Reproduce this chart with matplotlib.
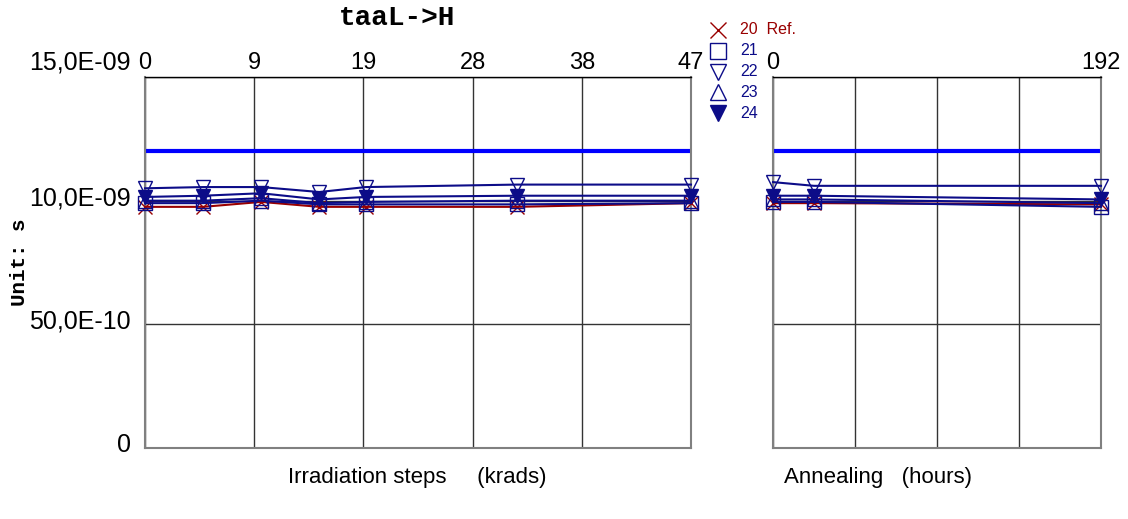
import numpy as np
import matplotlib
matplotlib.use("Agg")
import matplotlib.pyplot as plt
import matplotlib.transforms as mtransforms

# irradiation steps (krads) and annealing (hours)
irr_x = [0, 5, 10, 15, 19, 32, 47]
ann_x = [0, 24, 192]

# values in ns
irr = {
    "20": [9.75, 9.75, 9.95, 9.75, 9.75, 9.75, 9.9],
    "21": [9.9, 9.9, 10.0, 9.85, 9.85, 9.85, 9.9],
    "22": [10.5, 10.55, 10.55, 10.35, 10.55, 10.65, 10.65],
    "23": [10.0, 10.0, 10.1, 9.9, 9.95, 10.0, 10.0],
    "24": [10.15, 10.2, 10.3, 10.05, 10.15, 10.2, 10.2],
}
ann = {
    "20": [9.9, 9.9, 9.85],
    "21": [9.95, 9.95, 9.75],
    "22": [10.75, 10.6, 10.6],
    "23": [10.05, 10.05, 9.9],
    "24": [10.2, 10.2, 10.05],
}
limit = 12.0  # ns

irr_ticks = [0, 9, 19, 28, 38, 47]
ann_ticks = ["0", "", "", "", "192"]
y_ticks = [0, 5, 10, 15]
y_labels = ["0", "50,0E-10", "10,0E-09", "15,0E-09"]

red = "#990000"
navy = "#0c0c88"
styles = {
    "20": dict(marker="x", color=red, mfc="none"),
    "21": dict(marker="s", color=navy, mfc="none"),
    "22": dict(marker="v", color=navy, mfc="none"),
    "23": dict(marker="^", color=navy, mfc="none"),
    "24": dict(marker="v", color=navy, mfc=navy),
}
leg_text = {"20": "20  Ref.", "21": "21", "22": "22", "23": "23", "24": "24"}

plt.rcParams['font.family'] = ['Liberation Sans', 'DejaVu Sans']

fig = plt.figure(figsize=(11.28, 5.19), dpi=100)
W, H = 1128.0, 519.0
top, bot = 77, 448
ax1 = fig.add_axes([145 / W, (H - bot) / H, 546 / W, (bot - top) / H])
ax2 = fig.add_axes([773 / W, (H - bot) / H, 328 / W, (bot - top) / H])

for ax, xs, data, xmax in [(ax1, irr_x, irr, 47), (ax2, ann_x, ann, 192)]:
    ax.set_xlim(0, xmax)
    ax.set_ylim(0, 15)
    ax.axhline(limit, color="#0000ff", lw=3, zorder=2)
    for k in ["20", "21", "22", "23", "24"]:
        st = styles[k]
        ax.plot(xs, data[k], color=st["color"], marker=st["marker"], mfc=st["mfc"],
                mec=st["color"], ms=10, mew=1, lw=1.5, zorder=3, clip_on=False)
    ax.xaxis.tick_top()
    ax.tick_params(axis="x", length=0, labelsize=17, pad=2)
    ax.tick_params(axis="y", length=0)
    ax.grid(True, color="#333333", lw=1)
    ax.set_axisbelow(True)
    for s in ["left", "right", "bottom"]:
        ax.spines[s].set_color("#808080")
        ax.spines[s].set_linewidth(1.5)
    ax.spines["top"].set_color("black")
    ax.spines["top"].set_linewidth(1)

ax1.set_xticks(np.linspace(0, 47, 6))
ax1.set_xticklabels([str(t) for t in irr_ticks])
ax2.set_xticks(np.linspace(0, 192, 5))
ax2.set_xticklabels(ann_ticks)

ax1.set_yticks(y_ticks)
ax1.set_yticklabels(y_labels, fontsize=18)
ax1.tick_params(axis="y", pad=10)
ax2.set_yticks(y_ticks)
ax2.set_yticklabels([])

# shift y tick labels up a little like the original
for i, lab in enumerate(ax1.get_yticklabels()):
    dy = 17 if i == 3 else 5
    off = mtransforms.ScaledTranslation(0, dy / 100.0, fig.dpi_scale_trans)
    lab.set_transform(lab.get_transform() + off)

fig.text(397 / W, 1 - 18 / H, "taaL->H", family="Liberation Mono", weight="bold",
         fontsize=20, ha="center", va="center")
fig.text(20 / W, 1 - 262 / H, "Unit: s", family="Liberation Mono", weight="bold",
         fontsize=15, ha="center", va="center", rotation=90)
fig.text(417 / W, 1 - 477 / H, "Irradiation steps     (krads)", fontsize=16,
         ha="center", va="center")
fig.text(878 / W, 1 - 477 / H, "Annealing   (hours)", fontsize=16,
         ha="center", va="center")

# legend drawn by hand between the panels
for i, k in enumerate(["20", "21", "22", "23", "24"]):
    yy = 1 - (30 + 20.8 * i) / H
    st = styles[k]
    fig.lines.append(plt.Line2D([718 / W], [yy], transform=fig.transFigure,
                                marker=st["marker"], mfc=st["mfc"], mec=st["color"],
                                ms=11, mew=1, ls="none"))
    fig.text(740 / W, yy, leg_text[k], color=st["color"], fontsize=11.5,
             ha="left", va="center")

fig.savefig("out.png", dpi=100)
